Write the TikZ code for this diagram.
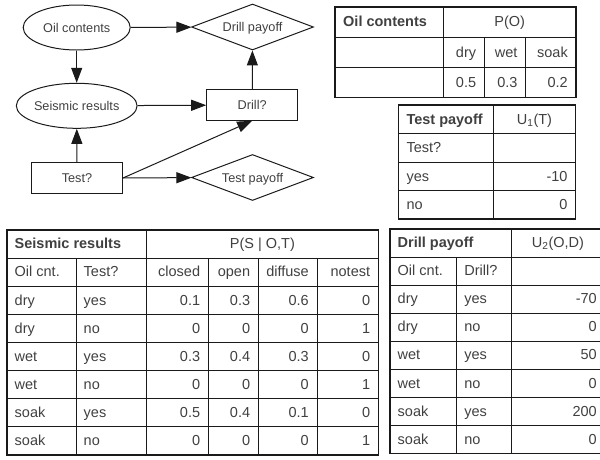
\documentclass[tikz,border=0pt]{standalone}
\usepackage{fontspec}
\setmainfont{Liberation Sans}
\usetikzlibrary{arrows.meta,shapes.geometric}
\definecolor{txt}{HTML}{404040}
\definecolor{ln}{HTML}{1A1A1A}
\newcommand{\dfont}{\fontsize{12.7}{15}\selectfont}
\newcommand{\tfont}{\fontsize{14.5}{17}\selectfont}
\tikzset{
  conn/.style={draw=ln, line width=1pt, -{Triangle[length=15pt,width=11pt]}},
  shp/.style={draw=ln, line width=1pt, inner sep=0pt, text=txt, font=\dfont, text height=9.1pt, text depth=0pt},
  chance/.style={shp, ellipse, minimum width=107pt, minimum height=45pt},
  decision/.style={shp, rectangle, minimum width=91pt, minimum height=30.5pt},
  utility/.style={shp, diamond, aspect=2.6, minimum width=122pt, minimum height=46pt},
  tl/.style={anchor=base west, inner sep=0pt, text=txt, font=\tfont},
  tr/.style={anchor=base east, inner sep=0pt, text=txt, font=\tfont},
  tc/.style={anchor=base, inner sep=0pt, text=txt, font=\tfont},
  th/.style={tl, font=\tfont\bfseries},
  grid/.style={draw=ln, line width=0.9pt},
  frame/.style={draw=ln, line width=1.3pt},
}
\begin{document}
\begin{tikzpicture}[x=1pt, y=-1pt]
\useasboundingbox (0,0) rectangle (600,459);
\clip (0,0) rectangle (600,459);

% ---------------- influence diagram ----------------
\node[chance]   (oil)   at (76.7,27.5)  {Oil contents};
\node[utility]  (dpay)  at (252.5,27)   {Drill payoff};
\node[chance]   (seis)  at (76.7,105.8) {Seismic results};
\node[decision] (drill) at (252.2,105)  {Drill?};
\node[decision] (test)  at (77,178)     {Test?};
\node[utility]  (tpay)  at (252.5,177.5){Test payoff};

\draw[conn] (oil) -- (dpay);
\draw[conn] (oil) -- (seis);
\draw[conn] (seis) -- (drill);
\draw[conn] (drill) -- (dpay);
\draw[conn] (test) -- (seis);
\draw[conn] (test.east) -- (drill.south);
\draw[conn] (test) -- (tpay);

% ---------------- Oil contents table ----------------
\draw[grid] (335,37) -- (576,37);
\draw[grid] (335,67.5) -- (576,67.5);
\draw[grid] (443.3,7) -- (443.3,97.5);
\draw[grid] (484.3,37) -- (484.3,97.5);
\draw[grid] (525.7,37) -- (525.7,97.5);
\draw[frame] (335,7) rectangle (576,97.5);
\node[th] (o11) at (343,26.7) {Oil contents};
\node[tc] (o12) at (509.7,26.7) {P(O)};
\node[tr] (o22) at (476.3,57) {dry};
\node[tr] (o23) at (517.7,57) {wet};
\node[tr] (o24) at (568,57) {soak};
\node[tr] (o32) at (476.3,87.2) {0.5};
\node[tr] (o33) at (517.7,87.2) {0.3};
\node[tr] (o34) at (568,87.2) {0.2};

% ---------------- Test payoff table ----------------
\foreach \yy in {133.5,162,190.5} \draw[grid] (398.3,\yy) -- (575.7,\yy);
\draw[grid] (493.3,105) -- (493.3,219);
\draw[frame] (398.3,105) rectangle (575.7,219);
\node[th] (t11) at (406.3,124) {Test payoff};
\node[tc] (t12) at (534.5,124) {U\textsubscript{1}(T)};
\node[tl] (t21) at (406.3,152.5) {Test?};
\node[tl] (t31) at (406.3,181) {yes};
\node[tr] (t32) at (567.7,181) {-10};
\node[tl] (t41) at (406.3,209.5) {no};
\node[tr] (t42) at (567.7,209.5) {0};

% ---------------- Seismic results table ----------------
\foreach \k in {1,...,7} \draw[grid] (7,{230+\k*28.125}) -- (378.3,{230+\k*28.125});
\draw[grid] (76,258.125) -- (76,455);
\draw[grid] (146.5,230) -- (146.5,455);
\foreach \xx in {208.3,258.3,317} \draw[grid] (\xx,258.125) -- (\xx,455);
\draw[frame] (7,230) rectangle (378.3,455);
\node[th] (s11) at (14.5,248.8) {Seismic results};
\node[tc] (s12) at (262.4,248.8) {P(S | O,T)};
\node[tl] (s21) at (14.5,276.9) {Oil cnt.};
\node[tl] (s22) at (83.5,276.9) {Test?};
\node[tr] (s23) at (200.3,276.9) {closed};
\node[tr] (s24) at (250.3,276.9) {open};
\node[tr] (s25) at (309,276.9) {diffuse};
\node[tr] (s26) at (370.3,276.9) {notest};
\foreach \oc/\te/\va/\vb/\vc/\vd [count=\i from 3] in
  {dry/yes/0.1/0.3/0.6/0, dry/no/0/0/0/1, wet/yes/0.3/0.4/0.3/0,
   wet/no/0/0/0/1, soak/yes/0.5/0.4/0.1/0, soak/no/0/0/0/1}{
  \pgfmathsetmacro\yb{230+(\i-0.5)*28.125+4.7}
  \node[tl] (s\i1) at (14.5,\yb) {\oc};
  \node[tl] (s\i2) at (83.5,\yb) {\te};
  \node[tr] (s\i3) at (200.3,\yb) {\va};
  \node[tr] (s\i4) at (250.3,\yb) {\vb};
  \node[tr] (s\i5) at (309,\yb) {\vc};
  \node[tr] (s\i6) at (370.3,\yb) {\vd};
}

% ---------------- Drill payoff table ----------------
\foreach \k in {1,...,7} \draw[grid] (390,{229+\k*28.06}) -- (605,{229+\k*28.06});
\draw[grid] (456.7,257.06) -- (456.7,453.5);
\draw[grid] (511.7,229) -- (511.7,453.5);
\draw[frame] (390,229) rectangle (605,453.5);
\node[th] (d11) at (397.5,247.7) {Drill payoff};
\node[tc] (d12) at (558,247.7) {U\textsubscript{2}(O,D)};
\node[tl] (d21) at (397.5,275.8) {Oil cnt.};
\node[tl] (d22) at (464.2,275.8) {Drill?};
\foreach \oc/\dr/\va [count=\i from 3] in
  {dry/yes/-70, dry/no/0, wet/yes/50, wet/no/0, soak/yes/200, soak/no/0}{
  \pgfmathsetmacro\yb{229+(\i-0.5)*28.06+4.7}
  \node[tl] (d\i1) at (397.5,\yb) {\oc};
  \node[tl] (d\i2) at (464.2,\yb) {\dr};
  \node[tr] (d\i3) at (597,\yb) {\va};
}
\end{tikzpicture}
\end{document}
